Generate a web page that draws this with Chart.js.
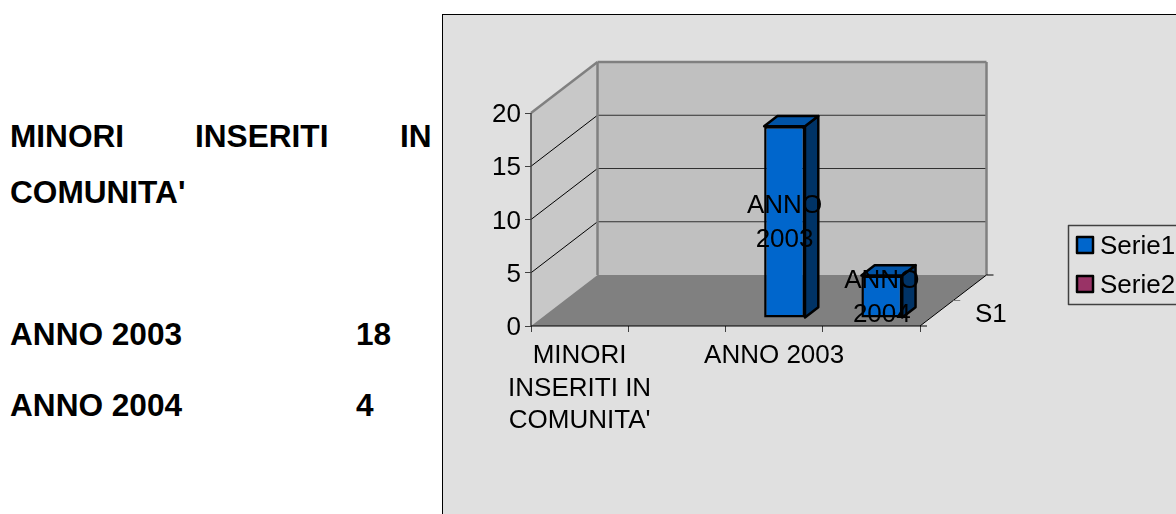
<!DOCTYPE html>
<html>
<head>
<meta charset="utf-8">
<script src="https://cdn.jsdelivr.net/npm/chart.js@4"></script>
<style>
html, body { margin: 0; padding: 0; background: #fff; width: 1176px; height: 514px; overflow: hidden; }
.txt { position: absolute; font: bold 31.6px "Liberation Sans", Arial, sans-serif; color: #000; white-space: nowrap; line-height: 32px; }
#box { position: absolute; left: 442px; top: 14px; width: 760px; height: 520px; border: 1px solid #000; background: #e0e0e0; }
canvas { display: block; }
</style>
</head>
<body>
<div class="txt" style="left:10px;top:120px">MINORI</div>
<div class="txt" style="left:195px;top:120px">INSERITI</div>
<div class="txt" style="left:400px;top:120px">IN</div>
<div class="txt" style="left:10px;top:176px">COMUNITA'</div>
<div class="txt" style="left:10px;top:318px">ANNO 2003</div>
<div class="txt" style="left:356px;top:318px">18</div>
<div class="txt" style="left:10px;top:389px">ANNO 2004</div>
<div class="txt" style="left:356px;top:389px">4</div>
<div id="box"><canvas id="graphique" width="760" height="520"></canvas></div>
<script>
const categories = ["MINORI INSERITI IN COMUNITA'", "", "ANNO 2003", "ANNO 2004"];
const categoryLines = [["MINORI", "INSERITI IN", "COMUNITA'"], "", "ANNO 2003", ""];
const serie1 = [null, null, 18, 4];
const serie2 = [null, null, null, null];
const seriesNames = ["Serie1", "Serie2"];
const seriesColors = ["#0066cc", "#993366"];
const depthLabels = ["S1"];
const yTicks = [0, 5, 10, 15, 20];

const FONT = '"Liberation Sans", Arial, sans-serif';
const FONT_SIZE = 26;
// how far the back wall sits from the front plane
const DEPTH_X = 66.5, DEPTH_Y = -51;
// front face of the columns, as a share of the depth
const BAR_FRONT = 0.157, BAR_DEPTH = 0.2;

function poly(ctx, pts, fill, stroke, lw) {
  ctx.beginPath();
  pts.forEach((p, i) => i ? ctx.lineTo(p[0], p[1]) : ctx.moveTo(p[0], p[1]));
  ctx.closePath();
  if (fill) { ctx.fillStyle = fill; ctx.fill(); }
  if (stroke) { ctx.strokeStyle = stroke; ctx.lineWidth = lw; ctx.lineJoin = 'round'; ctx.stroke(); }
}

function seg(ctx, x1, y1, x2, y2, color, lw) {
  ctx.beginPath();
  ctx.moveTo(x1, y1);
  ctx.lineTo(x2, y2);
  ctx.strokeStyle = color;
  ctx.lineWidth = lw;
  ctx.stroke();
}

// walls, floor and the depth axis
const walls = {
  id: 'walls',
  beforeDraw(chart) {
    // y labels sit a little lower than the canvas middle baseline
    chart.scales.y.getLabelItems().forEach(item => {
      if (!item.nudged) { item.options.translation[1] += 2; item.nudged = true; }
    });
  },
  beforeDatasetsDraw(chart) {
    const ctx = chart.ctx, y = chart.scales.y, a = chart.chartArea;
    const l = a.left, r = a.right, y0 = y.getPixelForValue(0), yt = y.getPixelForValue(20);
    const dx = DEPTH_X, dy = DEPTH_Y;
    ctx.save();
    poly(ctx, [[l + dx, yt + dy], [r + dx, yt + dy], [r + dx, y0 + dy], [l + dx, y0 + dy]], '#c0c0c0');
    poly(ctx, [[l, y0], [l + dx, y0 + dy], [l + dx, yt + dy], [l, yt]], '#c8c8c8');
    poly(ctx, [[l, y0], [r, y0], [r + dx, y0 + dy], [l + dx, y0 + dy]], '#808080');
    yTicks.slice(1, -1).forEach(v => {
      const p = y.getPixelForValue(v);
      seg(ctx, l, p, l + dx, p + dy, '#000', 1);
      seg(ctx, l + dx, p + dy, r + dx, p + dy, '#303030', 1.2);
    });
    seg(ctx, l, yt, l + dx, yt + dy, '#808080', 2.5);
    seg(ctx, l + dx, yt + dy, r + dx, yt + dy, '#808080', 2.5);
    seg(ctx, l + dx, yt + dy, l + dx, y0 + dy, '#808080', 2.5);
    seg(ctx, r + dx, yt + dy, r + dx, y0 + dy, '#808080', 2.5);
    seg(ctx, l, yt, l, y0, '#404040', 1.5);
    seg(ctx, l, y0, r, y0, '#000', 1);
    seg(ctx, r, y0, r + dx, y0 + dy, '#000', 1);
    seg(ctx, r, y0, r + 7, y0, '#000', 1);
    seg(ctx, r + dx / 2, y0 + dy / 2, r + dx / 2 + 7, y0 + dy / 2, '#808080', 1);
    seg(ctx, r + dx, y0 + dy, r + dx + 7, y0 + dy, '#000', 1);
    ctx.fillStyle = '#000';
    ctx.font = FONT_SIZE + 'px ' + FONT;
    ctx.textAlign = 'left';
    ctx.textBaseline = 'middle';
    ctx.fillText(depthLabels[0], r + 55, y0 - 11);
    ctx.restore();
    // side and top of each column, the front face comes from the bar element
    const fx = dx * BAR_FRONT, fy = dy * BAR_FRONT;
    const bx = dx * BAR_DEPTH, by = dy * BAR_DEPTH;
    chart.getDatasetMeta(0).data.forEach((bar, i) => {
      if (serie1[i] == null) return;
      const half = bar.width / 2;
      const x1 = bar.x - half + fx, x2 = bar.x + half + fx;
      const top = bar.y + fy, bot = bar.base + fy;
      poly(ctx, [[x2, top], [x2 + bx, top + by], [x2 + bx, bot + by], [x2, bot]], '#003366', '#000', 2.5);
      poly(ctx, [[x1, top], [x1 + bx, top + by], [x2 + bx, top + by], [x2, top]], '#0053a6', '#000', 2.5);
    });
    ctx.save();
    ctx.translate(fx, fy);
  },
  afterDatasetsDraw(chart) {
    const ctx = chart.ctx;
    ctx.restore();
    const fx = DEPTH_X * BAR_FRONT, fy = DEPTH_Y * BAR_FRONT;
    // category names on the columns
    ctx.save();
    ctx.fillStyle = '#000';
    ctx.font = FONT_SIZE + 'px ' + FONT;
    ctx.textAlign = 'center';
    ctx.textBaseline = 'middle';
    chart.getDatasetMeta(0).data.forEach((bar, i) => {
      if (serie1[i] == null) return;
      const mid = (bar.y + bar.base) / 2 + fy;
      const words = categories[i].split(' ');
      ctx.fillText(words[0], bar.x + fx, mid - 16);
      ctx.fillText(words[1], bar.x + fx, mid + 18);
    });
    ctx.restore();
  },
  afterDraw(chart) {
    // legend box running off the right edge
    const ctx = chart.ctx;
    ctx.save();
    ctx.strokeStyle = '#404040';
    ctx.lineWidth = 1.5;
    ctx.strokeRect(625.5, 210.5, 200, 79);
    ctx.font = FONT_SIZE + 'px ' + FONT;
    ctx.textAlign = 'left';
    ctx.textBaseline = 'middle';
    chart.data.datasets.forEach((ds, i) => {
      const yy = 222 + i * 39;
      ctx.fillStyle = seriesColors[i];
      ctx.strokeStyle = '#000';
      ctx.lineWidth = 2.5;
      ctx.fillRect(634, yy, 16, 16);
      ctx.strokeRect(634, yy, 16, 16);
      ctx.fillStyle = '#000';
      ctx.fillText(ds.label, 657, yy + 10);
    });
    ctx.restore();
  }
};

new Chart(document.getElementById('graphique'), {
  type: 'bar',
  data: {
    labels: categories,
    datasets: [
      { label: seriesNames[0], data: serie1, backgroundColor: seriesColors[0], borderColor: '#000', borderWidth: 2.5, borderSkipped: false, clip: false },
      { label: seriesNames[1], data: serie2, backgroundColor: seriesColors[1], borderColor: '#000', borderWidth: 2.5, borderSkipped: false, clip: false }
    ]
  },
  plugins: [walls],
  options: {
    responsive: false,
    animation: false,
    grouped: false,
    barPercentage: 0.42,
    categoryPercentage: 1,
    layout: { padding: { left: 0, top: 98, right: 283, bottom: 0 } },
    plugins: { legend: { display: false }, tooltip: { enabled: false } },
    scales: {
      x: {
        afterFit(scale) { scale.height = 209; },
        border: { display: false },
        grid: { drawOnChartArea: false, drawTicks: true, tickLength: 6, color: '#404040' },
        ticks: {
          autoSkip: false, maxRotation: 0, minRotation: 0, padding: 8, color: '#000',
          font: { family: FONT, size: FONT_SIZE, lineHeight: 1.25 },
          callback(v, i) { return categoryLines[i]; }
        }
      },
      y: {
        min: 0, max: 20,
        afterFit(scale) { scale.width = 88; },
        border: { display: false },
        grid: { drawOnChartArea: false, drawTicks: true, tickLength: 6, color: '#404040' },
        ticks: { stepSize: 5, padding: 4, color: '#000', font: { family: FONT, size: FONT_SIZE } }
      }
    }
  }
});
</script>
</body>
</html>
